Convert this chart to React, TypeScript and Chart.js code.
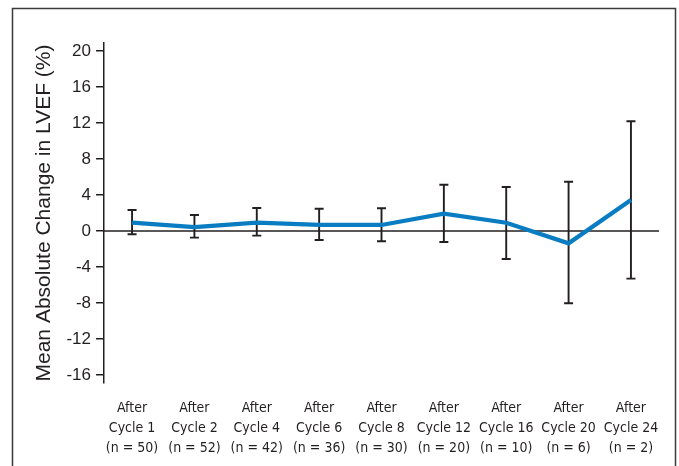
import React, { useEffect, useRef } from "react";
import { Chart, registerables } from "chart.js";

Chart.register(...registerables);

const cycleLabels = ["Cycle 1", "Cycle 2", "Cycle 4", "Cycle 6", "Cycle 8", "Cycle 12", "Cycle 16", "Cycle 20", "Cycle 24"];
const sampleSizes = [50, 52, 42, 36, 30, 20, 10, 6, 2];
const meanChange = [0.92, 0.44, 0.92, 0.67, 0.67, 1.92, 0.92, -1.37, 3.44];
const upperBound = [2.33, 1.78, 2.56, 2.48, 2.52, 5.14, 4.89, 5.48, 12.2];
const lowerBound = [-0.37, -0.74, -0.52, -1.0, -1.14, -1.22, -3.11, -8.03, -5.3];
const yTicks = [-16, -12, -8, -4, 0, 4, 8, 12, 16, 20];

const INK = "#231f20";

const decorPlugin = {
  id: "decor",
  beforeDatasetsDraw(chart: any) {
    const { ctx, chartArea, scales } = chart;
    const x = scales.x;
    const y = scales.y;
    ctx.save();
    // zero line
    ctx.strokeStyle = INK;
    ctx.lineWidth = 1.5;
    const y0 = y.getPixelForValue(0);
    ctx.beginPath();
    ctx.moveTo(chartArea.left, y0);
    ctx.lineTo(chartArea.right, y0);
    ctx.stroke();
    // error bars
    ctx.lineWidth = 1.9;
    meanChange.forEach((_, i) => {
      const px = x.getPixelForValue(i);
      const yt = y.getPixelForValue(upperBound[i]);
      const yb = y.getPixelForValue(lowerBound[i]);
      ctx.beginPath();
      ctx.moveTo(px, yt);
      ctx.lineTo(px, yb);
      ctx.moveTo(px - 4.5, yt);
      ctx.lineTo(px + 4.5, yt);
      ctx.moveTo(px - 4.5, yb);
      ctx.lineTo(px + 4.5, yb);
      ctx.stroke();
    });
    ctx.restore();
  },
  afterDraw(chart: any) {
    const { ctx } = chart;
    ctx.save();
    ctx.strokeStyle = "#3a3a3a";
    ctx.lineWidth = 1.5;
    ctx.strokeRect(12.5, 8.5, 663, 520);
    ctx.restore();
  },
};

export default function App() {
  const ref = useRef<HTMLCanvasElement>(null);
  useEffect(() => {
    if (!ref.current) return;
    const chart = new Chart(ref.current, {
      type: "line",
      data: {
        datasets: [
          {
            data: meanChange.map((v, i) => ({ x: i, y: v })),
            borderColor: "#0a7dc2",
            borderWidth: 4.2,
            pointRadius: 0,
            tension: 0,
            fill: false,
          },
        ],
      },
      options: {
        animation: false,
        responsive: false,
        maintainAspectRatio: false,
        layout: { padding: { left: 0, top: 43, right: 20, bottom: 0 } },
        plugins: { legend: { display: false }, tooltip: { enabled: false } },
        scales: {
          x: {
            type: "linear",
            min: -0.45,
            max: 8.45,
            afterBuildTicks: (scale: any) => {
              scale.ticks = meanChange.map((_, i) => ({ value: i }));
            },
            afterFit: (scale: any) => {
              scale.height = 83;
            },
            border: { display: false },
            grid: { display: false, drawTicks: false },
            ticks: {
              autoSkip: false,
              maxRotation: 0,
              padding: 16,
              color: INK,
              font: { family: "'Liberation Sans Narrow', 'DejaVu Sans Condensed', sans-serif", size: 14, lineHeight: 1.4 },
              callback: (v: any) => {
                const i = Math.round(Number(v));
                return ["After", cycleLabels[i], `(n = ${sampleSizes[i]})`];
              },
            },
          },
          y: {
            type: "linear",
            min: -16.9,
            max: 20.9,
            afterBuildTicks: (scale: any) => {
              scale.ticks = yTicks.map((v) => ({ value: v }));
            },
            afterFit: (scale: any) => {
              scale.width = 104;
            },
            border: { display: true, color: INK, width: 1.5 },
            grid: { display: true, drawOnChartArea: false, drawTicks: true, tickLength: 8, color: INK, lineWidth: 1.5 },
            ticks: {
              padding: 5,
              color: INK,
              font: { family: "'Liberation Sans', Arial, sans-serif", size: 17 },
            },
            title: {
              display: true,
              text: "Mean Absolute Change in LVEF (%)",
              color: INK,
              font: { family: "'Liberation Sans', Arial, sans-serif", size: 21 },
              padding: { top: 32, bottom: 0 },
            },
          },
        },
      },
      plugins: [decorPlugin],
    });
    return () => chart.destroy();
  }, []);
  return (
    <div style={{ position: "absolute", left: 0, top: 0, width: 679, height: 466, background: "#fff" }}>
      <canvas ref={ref} width={679} height={466} style={{ display: "block", width: 679, height: 466 }} />
    </div>
  );
}
